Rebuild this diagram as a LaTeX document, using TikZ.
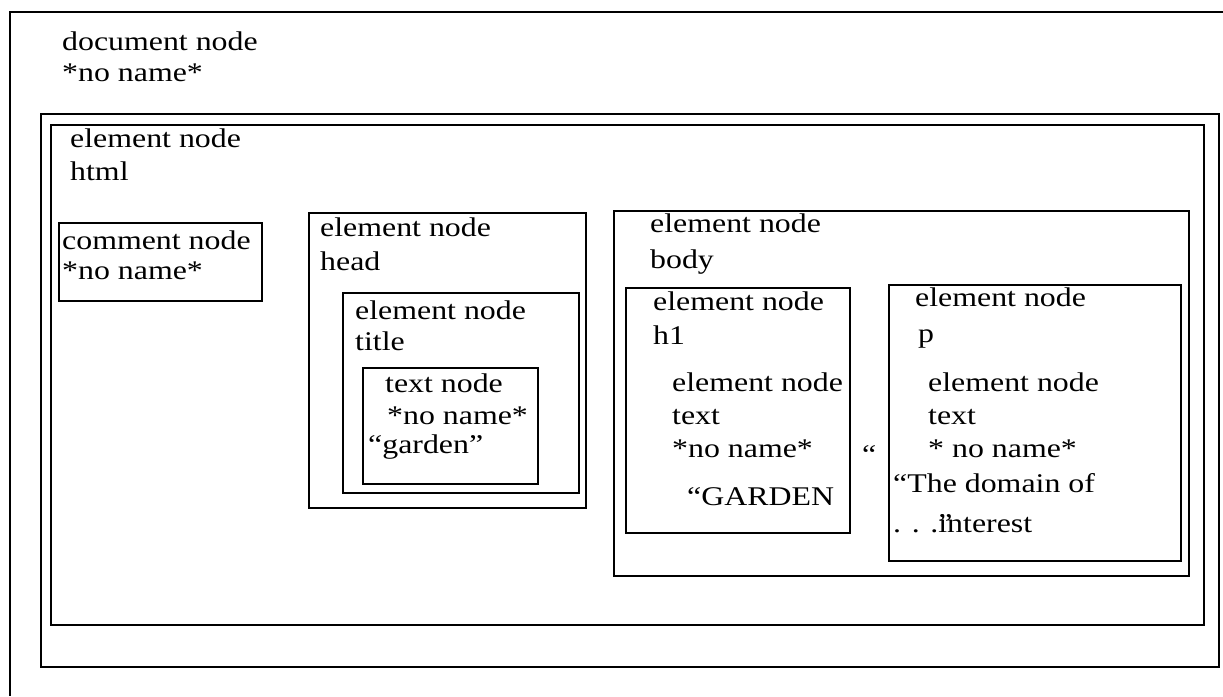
\documentclass[tikz,border=0pt]{standalone}
\usepackage{fontspec}
\setmainfont[FakeStretch=1.18]{Liberation Serif}
\begin{document}
\begin{tikzpicture}[x=1pt,y=-1pt,
  box/.style={draw, line width=2pt, rectangle, inner sep=0pt, anchor=north west},
  lbl/.style={anchor=base west, inner sep=0pt, font=\fontsize{27}{31}\selectfont}]
\useasboundingbox (0,0) rectangle (1223,696);
\fill[white] (0,0) rectangle (1223,696);
% document box (open to the right and bottom)
\coordinate (dtr) at (1223,12);
\coordinate (dtl) at (10,12);
\coordinate (dbl) at (10,696);
\draw[line width=2pt] (dtr) -- (dtl) -- (dbl);
% boxes
\node[box, minimum width=1178pt, minimum height=553pt] (outer) at (40,113) {};
\node[box, minimum width=1153pt, minimum height=500pt] (html) at (50,124) {};
\node[box, minimum width=203pt, minimum height=78pt] (comment) at (58,222) {};
\node[box, minimum width=277pt, minimum height=295pt] (head) at (308,212) {};
\node[box, minimum width=236pt, minimum height=200pt] (title) at (342,292) {};
\node[box, minimum width=175pt, minimum height=116pt] (textn) at (362,367) {};
\node[box, minimum width=575pt, minimum height=365pt] (body) at (613,210) {};
\node[box, minimum width=224pt, minimum height=245pt] (h1) at (625,287) {};
\node[box, minimum width=292pt, minimum height=276pt] (p) at (888,284) {};
% labels
\node[lbl] (d1) at (62,50) {document node};
\node[lbl] (d2) at (62,81) {*no name*};
\node[lbl] (ht1) at (70,147) {element node};
\node[lbl] (ht2) at (70,180) {html};
\node[lbl] (c1) at (62,249) {comment node};
\node[lbl] (c2) at (62,279) {*no name*};
\node[lbl] (he1) at (320,236) {element node};
\node[lbl] (he2) at (320,270) {head};
\node[lbl] (ti1) at (355,319) {element node};
\node[lbl] (ti2) at (355,350) {title};
\node[lbl] (tx1) at (385,392) {text node};
\node[lbl] (tx2) at (387,424) {*no name*};
\node[lbl] (tx3) at (368,453) {“garden”};
\node[lbl] (b1) at (650,232) {element node};
\node[lbl] (b2) at (650,268) {body};
\node[lbl] (h11) at (653,310) {element node};
\node[lbl] (h12) at (653,344) {h1};
\node[lbl] (h13) at (672,391) {element node};
\node[lbl] (h14) at (672,424) {text};
\node[lbl] (h15) at (672,457) {*no name*};
\node[lbl] (h16) at (687,505) {“GARDEN};
\node[lbl] (mq) at (862,463) {“};
\node[lbl] (p1) at (915,306) {element node};
\node[lbl] (p2) at (918,342) {p};
\node[lbl] (p3) at (928,391) {element node};
\node[lbl] (p4) at (928,424) {text};
\node[lbl] (p5) at (928,457) {* no name*};
\node[lbl] (p6) at (893,492) {“The domain of};
\node[lbl] (p7) at (893,532) {. . .\rlap{”}interest};
\end{tikzpicture}
\end{document}
